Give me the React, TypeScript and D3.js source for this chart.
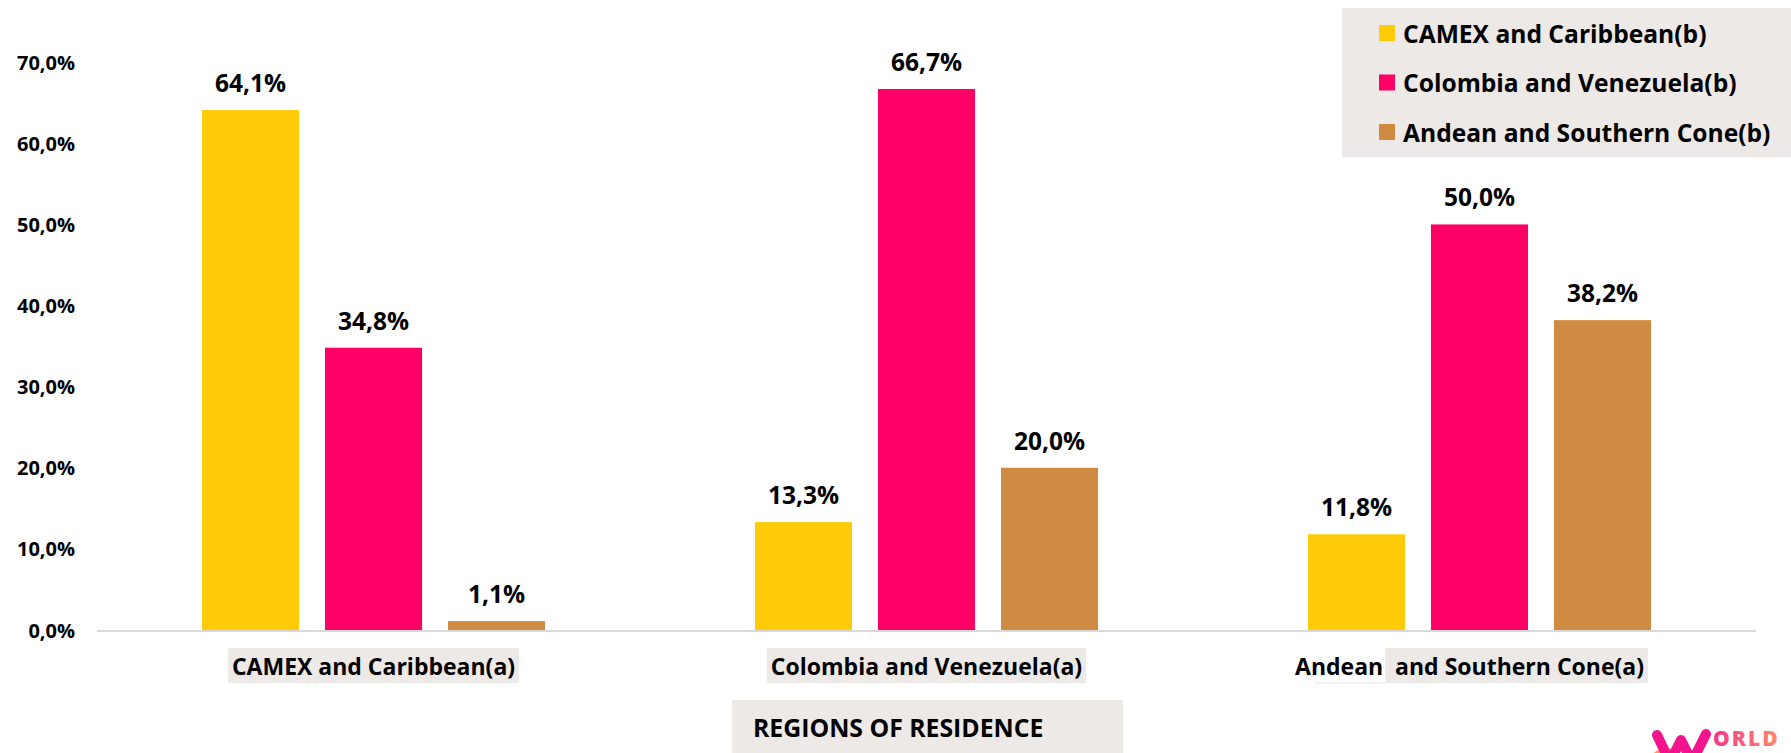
import React, { useEffect, useRef } from 'react';
import * as d3 from 'd3';

const categories = ["CAMEX and Caribbean(a)", "Colombia and Venezuela(a)", "Andean  and Southern Cone(a)"];
const categoryUnboxedPrefix = ["", "", "Andean"];
const seriesNames = ["CAMEX and Caribbean(b)", "Colombia and Venezuela(b)", "Andean and Southern Cone(b)"];
const camexValues = [64.1, 13.3, 11.8];
const colombiaValues = [34.8, 66.7, 50.0];
const andeanValues = [1.1, 20.0, 38.2];
const yTicks = [0, 10, 20, 30, 40, 50, 60, 70];
const seriesColors = ["#FFCA08", "#FF0066", "#CE8B41"];
const axisTitle = "REGIONS OF RESIDENCE";

const W = 1791;
const H = 753;
const FONT = "'Open Sans', 'DejaVu Sans', sans-serif";
const BOX = "#ECE9E6";

const fmt = (v: number) => d3.format(".1f")(v).replace(".", ",") + "%";

export default function App() {
  const ref = useRef<SVGSVGElement>(null);

  useEffect(() => {
    document.body.style.margin = "0";
    const svg = d3.select(ref.current);
    svg.selectAll("*").remove();

    const seriesValues = [camexValues, colombiaValues, andeanValues];

    const x0 = d3.scaleBand<string>().domain(categories).range([97, 1756]).padding(0);
    const x1 = d3.scaleBand<string>().domain(seriesNames).range([0, x0.bandwidth()])
      .paddingInner(0.211).paddingOuter(0.853);
    const y = d3.scaleLinear().domain([0, 70]).range([630, 62.2]);

    const g = svg.append("g");

    // y tick labels
    g.selectAll("text.ytick").data(yTicks).join("text")
      .attr("class", "ytick")
      .attr("x", 75)
      .attr("y", d => y(d))
      .attr("text-anchor", "end")
      .attr("dominant-baseline", "central")
      .attr("font-family", FONT)
      .attr("font-weight", 700)
      .attr("font-size", 20)
      .attr("fill", "#000")
      .text(d => fmt(d));

    // bars
    const flat = categories.flatMap((c, ci) => seriesNames.map((s, si) => ({ c, s, si, v: seriesValues[si][ci] })));
    g.selectAll("rect.bar").data(flat).join("rect")
      .attr("class", "bar")
      .attr("x", d => (x0(d.c) as number) + (x1(d.s) as number))
      .attr("width", x1.bandwidth())
      .attr("y", d => y(d.v))
      .attr("height", d => y(0) - y(d.v))
      .attr("fill", d => seriesColors[d.si]);

    // axis line
    g.append("line")
      .attr("x1", 97).attr("x2", 1756)
      .attr("y1", y(0) + 1).attr("y2", y(0) + 1)
      .attr("stroke", "#D9D9D9").attr("stroke-width", 2);

    // value labels
    g.selectAll("text.val").data(flat).join("text")
      .attr("class", "val")
      .attr("x", d => (x0(d.c) as number) + (x1(d.s) as number) + x1.bandwidth() / 2)
      .attr("y", d => y(d.v) - 18)
      .attr("text-anchor", "middle")
      .attr("font-family", FONT)
      .attr("font-weight", 700)
      .attr("font-size", 24.5)
      .attr("fill", "#000")
      .text(d => fmt(d.v));

    // category labels
    categories.forEach((c, ci) => {
      const cx = (x0(c) as number) + x0.bandwidth() / 2 + (categoryUnboxedPrefix[ci] ? -10 : 0);
      const lg = g.append("g");
      const bg = lg.append("rect").attr("fill", BOX);
      const t = lg.append("text")
        .attr("x", cx).attr("y", 675)
        .attr("text-anchor", "middle")
        .attr("font-family", FONT)
        .attr("font-weight", 700)
        .attr("font-size", 23)
        .attr("fill", "#000")
        .attr("xml:space", "preserve")
        .style("white-space", "pre")
        .text(c);
      const node = t.node() as SVGTextElement;
      const bb = node.getBBox();
      let left = bb.x - 4;
      const prefix = categoryUnboxedPrefix[ci];
      if (prefix) {
        const tmp = lg.append("text")
          .attr("font-family", FONT).attr("font-weight", 700).attr("font-size", 23)
          .text(prefix + " ");
        const pw = (tmp.node() as SVGTextElement).getComputedTextLength();
        tmp.remove();
        left = bb.x + pw + 2;
        lg.append("line")
          .attr("x1", bb.x + 20).attr("x2", left)
          .attr("y1", 683).attr("y2", 683)
          .attr("stroke", "#E4E4E4").attr("stroke-width", 1);
      }
      bg.attr("x", left).attr("y", 648)
        .attr("width", bb.x + bb.width + 4 - left).attr("height", 35);
    });

    // axis title
    g.append("rect").attr("x", 732).attr("y", 700).attr("width", 391).attr("height", 60).attr("fill", BOX);
    g.append("text")
      .attr("x", 753).attr("y", 737)
      .attr("font-family", FONT).attr("font-weight", 700).attr("font-size", 24.8)
      .attr("fill", "#000")
      .text(axisTitle);

    // legend
    g.append("rect").attr("x", 1342).attr("y", 8).attr("width", 449).attr("height", 149).attr("fill", BOX);
    seriesNames.forEach((s, si) => {
      const cy = 33 + si * 49.5;
      g.append("rect").attr("x", 1379).attr("y", cy - 8).attr("width", 16).attr("height", 16).attr("fill", seriesColors[si]);
      g.append("text")
        .attr("x", 1403).attr("y", cy)
        .attr("dominant-baseline", "central")
        .attr("font-family", FONT).attr("font-weight", 700).attr("font-size", 24.6)
        .attr("fill", "#000")
        .text(s);
    });

    // logo
    const defs = svg.append("defs");
    const grad = defs.append("linearGradient").attr("id", "logoGrad").attr("x1", "0").attr("x2", "1").attr("y1", "0").attr("y2", "0");
    grad.append("stop").attr("offset", "0%").attr("stop-color", "#F7388C");
    grad.append("stop").attr("offset", "100%").attr("stop-color", "#FF8A6A");
    g.append("circle").attr("cx", 1667).attr("cy", 768).attr("r", 20).attr("fill", "#FF8C5A").attr("opacity", 0.9);
    g.append("path")
      .attr("d", "M1657,735 L1670,762 L1681,740 L1692,762 L1706,734")
      .attr("fill", "none").attr("stroke", "#F2138D").attr("stroke-width", 10)
      .attr("stroke-linecap", "round").attr("stroke-linejoin", "round");
    g.append("text")
      .attr("x", 1713).attr("y", 746)
      .attr("font-family", FONT).attr("font-weight", 800).attr("font-size", 21)
      .attr("letter-spacing", 2)
      .attr("fill", "url(#logoGrad)")
      .text("ORLD");
  }, []);

  return <svg ref={ref} width={W} height={H} style={{ display: "block", background: "#fff" }} />;
}
